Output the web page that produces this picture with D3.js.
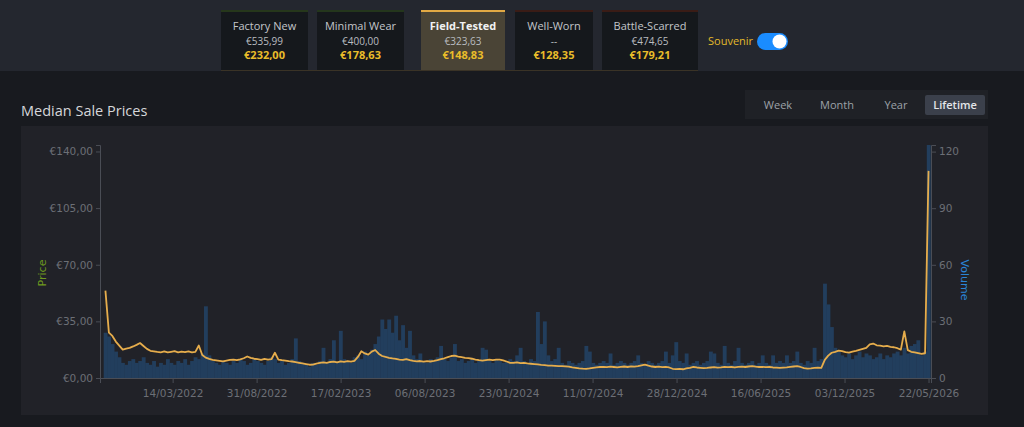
<!DOCTYPE html>
<html>
<head>
<meta charset="utf-8">
<script src="https://cdn.jsdelivr.net/npm/d3@7"></script>
<style>
  html, body { margin: 0; padding: 0; background: #181a1f; }
  .canvas svg { display: block; }
</style>
</head>
<body>
<div class="canvas"></div>
<script>
// wear tabs
const tabNames = ['Factory New', 'Minimal Wear', 'Field-Tested', 'Well-Worn', 'Battle-Scarred']
const tabPrices = ['€535,99', '€400,00', '€323,63', '--', '€474,65']
const tabMedians = ['€232,00', '€178,63', '€148,83', '€128,35', '€179,21']
const periods = ['Week', 'Month', 'Year', 'Lifetime']

// axis ticks
const priceTicks = [0, 35, 70, 105, 140]
const volumeTicks = [0, 30, 60, 90, 120]
const dateTicks = ['14/03/2022', '31/08/2022', '17/02/2023', '06/08/2023', '23/01/2024',
    '11/07/2024', '28/12/2024', '16/06/2025', '03/12/2025', '22/05/2026']

// weekly samples starting 29/10/2021
const firstDay = '29/10/2021'
const prices = [
    54, 28, 26, 22.5, 20, 17.5, 18.2, 18.6, 19.5, 20.5,
    21.6, 19.8, 18, 16.8, 16.5, 16.1, 15.9, 16.4, 15.8, 16.2,
    16.6, 15.9, 16.3, 16.0, 16.4, 15.8, 16.1, 20.1, 14.2, 12.6,
    11.8, 11.2, 10.9, 10.6, 10.3, 10.8, 11.2, 11.4, 11.0, 11.5,
    12.2, 13.3, 12.4, 11.9, 11.6, 11.2, 11.8, 11.3, 11.6, 15.6,
    11.4, 11.0, 10.8, 10.4, 10.2, 9.8, 9.4, 9.0, 8.6, 8.2,
    8.3, 8.9, 9.3, 9.6, 9.4, 9.9, 10.1, 9.7, 10.3, 10.0,
    10.4, 10.1, 10.6, 13.0, 16.5, 15.2, 14.4, 16.3, 17.3, 15.0,
    13.6, 13.0, 12.5, 12.1, 11.8, 11.4, 11.2, 11.6, 11.0, 10.6,
    10.3, 10.5, 10.1, 10.4, 10.2, 10.6, 11.1, 11.7, 12.2, 12.9,
    13.6, 13.8, 13.2, 12.9, 12.5, 12.3, 11.9, 11.4, 11.0, 10.8,
    11.1, 11.3, 11.0, 11.4, 11.3, 10.9, 10.2, 9.4, 9.3, 9.6,
    9.2, 9.3, 9.0, 8.8, 8.6, 8.4, 8.1, 7.9, 7.7, 7.6,
    7.5, 7.3, 7.4, 7.2, 7.0, 6.6, 6.3, 6.0, 5.8, 5.7,
    5.9, 6.3, 6.6, 6.8, 6.9, 6.7, 7.0, 6.8, 6.6, 6.9,
    7.1, 6.8, 7.2, 7.0, 7.3, 7.8, 8.3, 7.6, 7.1, 6.8,
    7.0, 6.7, 6.9, 6.5, 5.7, 5.5, 5.6, 5.4, 5.9, 6.3,
    6.8, 6.5, 6.3, 6.1, 6.2, 6.5, 6.7, 6.4, 6.6, 6.9,
    6.7, 6.8, 6.5, 6.9, 7.0, 6.8, 7.1, 7.3, 7.0, 6.8,
    6.9, 6.7, 6.8, 6.5, 6.4, 6.2, 6.4, 6.6, 6.9, 7.1,
    7.3, 6.8, 6.1, 5.8, 5.9, 6.2, 6.4, 6.3, 11.2, 13.8,
    15.6, 16.2, 16.9, 16.6, 16.0, 15.7, 16.3, 16.8, 17.4, 18.0,
    18.6, 20.8, 21.3, 20.2, 20.0, 19.6, 19.9, 19.3, 19.0, 18.4,
    17.5, 28.8, 17.2, 16.2, 15.8, 15.4, 14.9, 15.3, 128
]
const volumes = [
    24, 22, 18, 14, 11, 8, 7, 9, 10, 8,
    9, 11, 8, 7, 9, 6, 8, 7, 10, 8,
    7, 9, 8, 10, 7, 9, 11, 10, 13, 38,
    12, 9, 8, 7, 9, 8, 7, 9, 8, 10,
    9, 7, 8, 10, 9, 8, 7, 9, 11, 10,
    8, 9, 7, 8, 10, 21, 9, 8, 7, 6,
    8, 7, 9, 16, 8, 10, 20, 9, 25, 10,
    9, 8, 11, 12, 10, 14, 12, 15, 18, 22,
    31, 26, 31, 24, 33, 20, 28, 16, 25, 12,
    10, 13, 9, 8, 10, 9, 11, 17, 10, 9,
    11, 18, 9, 10, 8, 9, 10, 8, 9, 16,
    15, 9, 8, 10, 9, 8, 9, 10, 9, 12,
    16, 9, 8, 10, 9, 35, 18, 30, 12, 9,
    10, 16, 8, 7, 9, 8, 7, 8, 9, 17,
    14, 8, 7, 8, 9, 8, 13, 7, 8, 9,
    8, 7, 8, 9, 12, 8, 7, 9, 8, 7,
    8, 9, 14, 8, 12, 19, 9, 8, 13, 7,
    8, 9, 7, 8, 9, 14, 13, 8, 7, 17,
    8, 7, 9, 16, 8, 7, 8, 9, 7, 8,
    12, 8, 7, 12, 8, 9, 8, 12, 8, 9,
    14, 8, 7, 9, 8, 16, 9, 10, 50, 39,
    27, 16, 14, 12, 11, 13, 10, 12, 14, 11,
    13, 12, 10, 11, 13, 10, 12, 11, 13, 14,
    12, 16, 13, 17, 18, 20, 12, 14, 125
]

const parseDate = d3.timeParse('%d/%m/%Y')
const start = parseDate(firstDay)
const data = prices.map((p, i) => ({
    date: d3.timeDay.offset(start, i * 7),
    price: p,
    volume: volumes[i]
}))

const width = 1024
const height = 427

const svg = d3.select('.canvas')
    .append('svg')
    .attr('width', width)
    .attr('height', height)
    .style('font-family', '"Open Sans", sans-serif')

// page backgrounds
svg.append('rect').attr('width', width).attr('height', height).attr('fill', '#181a1f')
svg.append('rect').attr('width', width).attr('height', 71).attr('fill', '#24272f')

// wear tabs
const tabX = [221, 317, 421, 515, 602]
const tabW = [87, 87, 84, 78, 96]
const tabTop = ['#26371b', '#24361c', '#e2a944', '#3a1c16', '#3a1c16']

svg.append('rect')
    .attr('x', 221).attr('y', 70).attr('width', 477).attr('height', 1)
    .attr('fill', '#3a3326')

const tabs = svg.selectAll('g.tab')
    .data(tabNames)
    .enter()
    .append('g')
    .attr('class', 'tab')
    .attr('transform', (d, i) => `translate(${tabX[i]}, 10)`)

tabs.append('rect')
    .attr('width', (d, i) => tabW[i])
    .attr('height', 60)
    .attr('fill', (d, i) => i === 2 ? '#4a4436' : '#15181c')

tabs.append('rect')
    .attr('width', (d, i) => tabW[i])
    .attr('height', 2)
    .attr('fill', (d, i) => tabTop[i])

tabs.append('text')
    .attr('x', (d, i) => tabW[i] / 2)
    .attr('y', 20)
    .attr('text-anchor', 'middle')
    .attr('font-size', 11)
    .attr('font-weight', (d, i) => i === 2 ? 700 : 400)
    .attr('fill', (d, i) => i === 2 ? '#f2f2f2' : '#c3c6ca')
    .text(d => d)

tabs.append('text')
    .attr('x', (d, i) => tabW[i] / 2)
    .attr('y', 34.5)
    .attr('text-anchor', 'middle')
    .attr('font-size', 10)
    .attr('fill', '#b9bcc0')
    .text((d, i) => tabPrices[i])

tabs.append('text')
    .attr('x', (d, i) => tabW[i] / 2)
    .attr('y', 49)
    .attr('text-anchor', 'middle')
    .attr('font-size', 11)
    .attr('font-weight', 700)
    .attr('fill', '#e9bd2a')
    .text((d, i) => tabMedians[i])

// souvenir toggle
svg.append('text')
    .attr('x', 708).attr('y', 45)
    .attr('font-size', 11)
    .attr('fill', '#e3b92a')
    .text('Souvenir')
svg.append('rect')
    .attr('x', 757).attr('y', 33).attr('width', 31).attr('height', 17).attr('rx', 8.5)
    .attr('fill', '#1a8cff')
svg.append('circle')
    .attr('cx', 779.5).attr('cy', 41.5).attr('r', 7)
    .attr('fill', '#ffffff')

// title
svg.append('text')
    .attr('x', 21).attr('y', 115.5)
    .attr('font-size', 14.5)
    .attr('fill', '#d5d7da')
    .text('Median Sale Prices')

// period buttons
svg.append('rect')
    .attr('x', 745).attr('y', 90).attr('width', 243).attr('height', 29)
    .attr('fill', '#1f2126')
const periodX = [778, 837, 896, 955]
svg.append('rect')
    .attr('x', 925).attr('y', 95).attr('width', 60).attr('height', 20).attr('rx', 2)
    .attr('fill', '#3b404b')
svg.selectAll('text.period')
    .data(periods)
    .enter()
    .append('text')
    .attr('class', 'period')
    .attr('x', (d, i) => periodX[i])
    .attr('y', 109)
    .attr('text-anchor', 'middle')
    .attr('font-size', 11)
    .attr('font-weight', (d, i) => i === 3 ? 600 : 400)
    .attr('fill', (d, i) => i === 3 ? '#e4e6e9' : '#9da1a8')
    .text(d => d)

// chart panel
svg.append('rect')
    .attr('x', 21).attr('y', 126).attr('width', 967).attr('height', 289)
    .attr('fill', '#212228')

// create margins and dimensions
const margin = { top: 145, left: 100 }
const graphWidth = 831
const graphHeight = 233

const graph = svg.append('g')
    .attr('transform', `translate(${margin.left}, ${margin.top})`)
    .style('font-family', '"DejaVu Sans", sans-serif')

// scales
const x = d3.scaleTime()
    .domain([parseDate('18/10/2021'), parseDate('27/05/2026')])
    .range([0, graphWidth])

const y = d3.scaleLinear()
    .domain([0, 144])
    .range([graphHeight, 0])

const yVol = d3.scaleLinear()
    .domain([0, 123.5])
    .range([graphHeight, 0])

// volume bars, opaque and slightly overlapping so they read as one dense fill
const barW = x(d3.timeDay.offset(start, 7)) - x(start)
const volTop = d => yVol(Math.min(d.volume, 123.5))
graph.append('g')
    .selectAll('rect')
    .data(data)
    .enter()
    .append('rect')
    .attr('x', d => x(d.date) - barW / 2)
    .attr('y', volTop)
    .attr('width', barW + 0.4)
    .attr('height', d => graphHeight - volTop(d))
    .attr('fill', '#223e5d')

// price line
const line = d3.line()
    .x(d => x(d.date))
    .y(d => y(d.price))

graph.append('path')
    .datum(data)
    .attr('d', line)
    .attr('fill', 'none')
    .attr('stroke', '#e6ad4c')
    .attr('stroke-width', 1.8)
    .attr('stroke-linejoin', 'round')

// axes
const euro = d => '€' + d.toFixed(2).replace('.', ',')

const xAxis = d3.axisBottom(x)
    .tickValues(dateTicks.map(parseDate))
    .tickFormat(d3.timeFormat('%d/%m/%Y'))
    .tickSize(5)
const yAxis = d3.axisLeft(y)
    .tickValues(priceTicks)
    .tickFormat(euro)
    .tickSize(4)
const yVolAxis = d3.axisRight(yVol)
    .tickValues(volumeTicks)
    .tickSize(5)

const xAxisGroup = graph.append('g')
    .attr('transform', `translate(0, ${graphHeight})`)
    .call(xAxis)
const yAxisGroup = graph.append('g').call(yAxis)
const yVolGroup = graph.append('g')
    .attr('transform', `translate(${graphWidth}, 0)`)
    .call(yVolAxis)

;[xAxisGroup, yAxisGroup, yVolGroup].forEach(g => {
    g.selectAll('path, line').attr('stroke', '#4a4d55')
    g.selectAll('text')
        .attr('fill', '#6c6f76')
        .attr('font-size', 10.5)
        .attr('font-family', '"DejaVu Sans", sans-serif')
})
xAxisGroup.selectAll('text').attr('dy', '1em')

// axis titles
graph.append('text')
    .attr('transform', `translate(${42 - margin.left}, ${273 - margin.top}) rotate(-90)`)
    .attr('text-anchor', 'middle')
    .attr('dy', '0.35em')
    .attr('font-size', 11)
    .attr('fill', '#6f9a1f')
    .text('Price')

graph.append('text')
    .attr('transform', `translate(${965 - margin.left}, ${280 - margin.top}) rotate(90)`)
    .attr('text-anchor', 'middle')
    .attr('dy', '0.35em')
    .attr('font-size', 11)
    .attr('fill', '#2a84d6')
    .text('Volume')
</script>
</body>
</html>
